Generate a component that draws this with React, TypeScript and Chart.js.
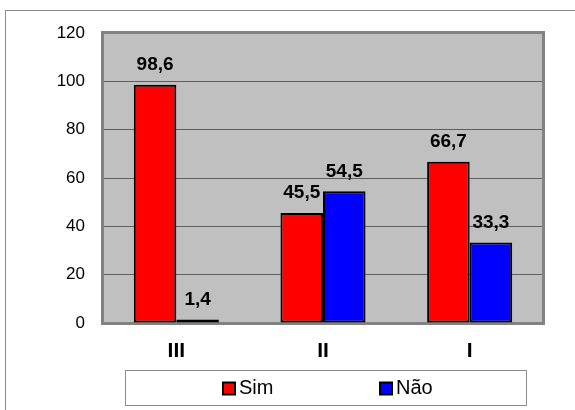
import { useEffect, useRef } from "react";
import { Chart, registerables } from "chart.js";

Chart.register(...registerables);

const categories = ["III", "II", "I"];
const simValues = [98.6, 45.5, 66.7];
const naoValues = [1.4, 54.5, 33.3];
const seriesNames = ["Sim", "Não"];
const seriesColors = ["#FF0000", "#0000FF"];
const yMin = 0;
const yMax = 120;
const yStep = 20;

const FONT = "'Liberation Sans', Arial, Helvetica, sans-serif";

const fmt = (v: number) => v.toFixed(1).replace(".", ",");

// White page, the outer frame and the grey plot background
const framePlugin = {
  id: "frame",
  beforeDraw(chart: any) {
    const { ctx, chartArea: a } = chart;
    ctx.save();
    ctx.fillStyle = "#FFFFFF";
    ctx.fillRect(0, 0, chart.width, chart.height);
    ctx.strokeStyle = "#8C8C8C";
    ctx.lineWidth = 1;
    ctx.strokeRect(5.5, 10.5, chart.width + 20, chart.height + 20);
    ctx.fillStyle = "#C0C0C0";
    ctx.fillRect(a.left, a.top, a.right - a.left, a.bottom - a.top);
    ctx.restore();
  },
  beforeDatasetsDraw(chart: any) {
    const { ctx, chartArea: a } = chart;
    ctx.save();
    ctx.strokeStyle = "#828282";
    ctx.lineWidth = 3;
    ctx.strokeRect(a.left - 0.5, a.top - 0.5, a.right - a.left + 1, a.bottom - a.top + 1);
    ctx.restore();
  },
};

// Value labels above each bar
const valueLabelPlugin = {
  id: "valueLabels",
  afterDatasetsDraw(chart: any) {
    const { ctx } = chart;
    ctx.save();
    ctx.font = `bold 19px ${FONT}`;
    ctx.fillStyle = "#000000";
    ctx.textAlign = "center";
    ctx.textBaseline = "middle";
    chart.data.datasets.forEach((ds: any, di: number) => {
      const meta = chart.getDatasetMeta(di);
      meta.data.forEach((el: any, i: number) => {
        ctx.fillText(fmt(ds.data[i]), el.x, el.y - 20);
      });
    });
    ctx.restore();
  },
};

// Boxed legend below the axis
const boxLegendPlugin = {
  id: "boxLegend",
  afterDraw(chart: any) {
    const { ctx } = chart;
    const box = { x: 125.5, y: 370.5, w: 401, h: 35 };
    ctx.save();
    ctx.fillStyle = "#FFFFFF";
    ctx.fillRect(box.x, box.y, box.w, box.h);
    ctx.strokeStyle = "#8C8C8C";
    ctx.lineWidth = 1;
    ctx.strokeRect(box.x, box.y, box.w, box.h);
    ctx.font = `20px ${FONT}`;
    ctx.textBaseline = "middle";
    ctx.textAlign = "left";
    const starts = [223, 380];
    const cy = box.y + box.h / 2 + 0.5;
    chart.data.datasets.forEach((ds: any, i: number) => {
      const sx = starts[i];
      ctx.fillStyle = ds.backgroundColor;
      ctx.fillRect(sx, cy - 6, 12, 12);
      ctx.strokeStyle = "#000000";
      ctx.lineWidth = 2;
      ctx.strokeRect(sx, cy - 6, 12, 12);
      ctx.fillStyle = "#000000";
      ctx.fillText(ds.label, sx + 16, cy);
    });
    ctx.restore();
  },
};

export default function App() {
  const canvasRef = useRef<HTMLCanvasElement | null>(null);

  useEffect(() => {
    if (!canvasRef.current) return;
    const chart = new Chart(canvasRef.current, {
      type: "bar",
      data: {
        labels: categories,
        datasets: [
          {
            label: seriesNames[0],
            data: simValues,
            backgroundColor: seriesColors[0],
            borderColor: "#000000",
            borderWidth: 2,
            borderSkipped: false,
          },
          {
            label: seriesNames[1],
            data: naoValues,
            backgroundColor: seriesColors[1],
            borderColor: "#000000",
            borderWidth: 2,
            borderSkipped: false,
          },
        ],
      },
      options: {
        responsive: false,
        animation: false,
        devicePixelRatio: 1,
        datasets: {
          bar: { categoryPercentage: 0.58, barPercentage: 1.0 },
        },
        layout: { padding: { left: 0, top: 33, right: 32, bottom: 37 } },
        plugins: {
          legend: { display: false },
          tooltip: { enabled: false },
        },
        scales: {
          x: {
            grid: { display: false },
            border: { display: false },
            ticks: {
              color: "#000000",
              font: { family: FONT, size: 21, weight: "bold" },
              padding: 8,
            },
            afterFit(scale: any) {
              scale.height = 50;
            },
          },
          y: {
            min: yMin,
            max: yMax,
            grid: { color: "#5E5E5E", lineWidth: 1, drawTicks: false },
            border: { display: false },
            ticks: {
              stepSize: yStep,
              color: "#000000",
              font: { family: FONT, size: 17 },
              padding: 18,
            },
            afterFit(scale: any) {
              scale.width = 103;
            },
          },
        },
      },
      plugins: [framePlugin, valueLabelPlugin, boxLegendPlugin],
    });
    return () => chart.destroy();
  }, []);

  return (
    <div style={{ position: "absolute", left: 0, top: 0, width: 575, height: 410 }}>
      <canvas ref={canvasRef} width={575} height={410} style={{ display: "block" }} />
    </div>
  );
}
